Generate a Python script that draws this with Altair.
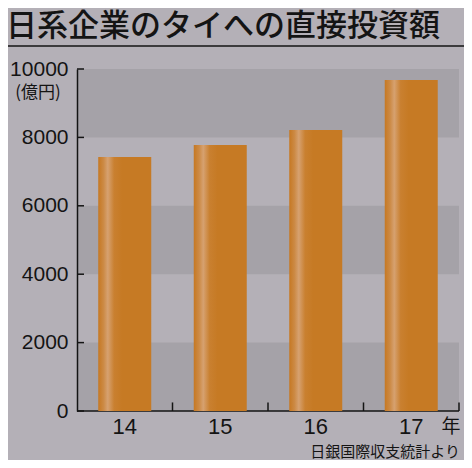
import altair as alt
import pandas as pd

# ---- data ----
years = ["14", "15", "16", "17"]
invest = [7430, 7780, 8220, 9680]          # 億円
band_lo = [0, 4000, 8000]
band_hi = [2000, 6000, 10000]
y_ticks = [0, 2000, 4000, 6000, 8000, 10000]

title_text = "日系企業のタイへの直接投資額"
unit_text = "(億円)"
year_unit = "年"
source_text = "日銀国際収支統計より"

# ---- styles ----
BG = "#b4b0b7"
BAND = "#a5a2a8"
INK = "#141414"
JP = "Noto Sans CJK JP"
NUM = "Liberation Sans"
W, H = 382, 342

df = pd.DataFrame({"year": years, "v": invest})
bands = pd.DataFrame({"lo": band_lo, "hi": band_hi})
ticks = pd.DataFrame({"t": y_ticks})

yscale = alt.Scale(domain=[0, 10000], nice=False)
xscale = alt.Scale(domain=years, paddingInner=0.445, paddingOuter=0.2225)

bar_fill = alt.LinearGradient(
    gradient="linear", x1=0, x2=1, y1=0, y2=0,
    stops=[
        alt.GradientStop(offset=0, color="#c67822"),
        alt.GradientStop(offset=0.1, color="#cc8a45"),
        alt.GradientStop(offset=0.18, color="#d6a170"),
        alt.GradientStop(offset=0.3, color="#c98030"),
        alt.GradientStop(offset=0.45, color="#c67a24"),
        alt.GradientStop(offset=1, color="#c67a24"),
    ],
)

band_layer = alt.Chart(bands).mark_rect(color=BAND).encode(
    y=alt.Y("lo:Q", scale=yscale, title=None),
    y2="hi:Q",
)

xaxis_line = alt.Chart(ticks).transform_filter("datum.t == 0").mark_rule(
    color=INK, strokeWidth=1.5
).encode(y=alt.Y("t:Q", scale=yscale, title=None))

# small upward ticks on the category boundaries (half a step right of each centre)
x_ticks = alt.Chart(df).mark_rule(color=INK, strokeWidth=1.5, xOffset=47.75).encode(
    x=alt.X("year:N", scale=xscale, title=None),
    y=alt.datum(0),
    y2=alt.datum(250),
)

bars = alt.Chart(df).mark_bar(color=bar_fill).encode(
    x=alt.X(
        "year:N", scale=xscale, title=None,
        axis=alt.Axis(
            labelAngle=0, domain=False, ticks=False, labelPadding=15,
            bandPosition=0.5, labelAlign="center",
            labelFont=NUM, labelFontSize=22, labelColor=INK,
        ),
    ),
    y=alt.Y(
        "v:Q", scale=yscale, title=None,
        axis=alt.Axis(
            values=y_ticks, format="d", ticks=False, grid=False, domain=True,
            domainColor=INK, domainWidth=1.5, labelPadding=9,
            labelFont=NUM, labelFontSize=21, labelColor=INK, zindex=1,
        ),
    ),
)

y_inticks = alt.Chart(ticks).mark_rule(color=INK, strokeWidth=1.5).encode(
    y=alt.Y("t:Q", scale=yscale, title=None),
    x=alt.value(0),
    x2=alt.value(7),
)


def label(text, x, y, size, align="left", baseline="alphabetic", weight="normal", font=JP):
    return alt.Chart(pd.DataFrame({"s": [text]})).mark_text(
        align=align, baseline=baseline, font=font, fontSize=size,
        fontWeight=weight, color=INK,
    ).encode(text="s:N", x=alt.value(x), y=alt.value(y))


title_layer = label(title_text, -71, -33, 31, weight=500)
title_rule = alt.Chart(pd.DataFrame({"s": [0]})).mark_rule(
    color=INK, strokeWidth=1.5
).encode(x=alt.value(-69), x2=alt.value(390), y=alt.value(-23))
unit_layer = label(unit_text, -39, 24, 17, align="center", baseline="middle")
year_layer = label(year_unit, 374, 358, 19, align="center", baseline="middle")
source_layer = label(source_text, 383, 383, 15, align="right", baseline="middle")

chart = alt.layer(
    band_layer, xaxis_line, x_ticks, bars, y_inticks,
    title_rule, title_layer, unit_layer, year_layer, source_layer,
).properties(
    width=W, height=H,
    autosize=alt.AutoSizeParams(type="none"),
    padding={"left": 69, "top": 61, "right": 5, "bottom": 49},
    background=BG,
).configure_view(stroke="transparent")

chart.save("out.html", embed_options={"renderer": "svg", "actions": False})
